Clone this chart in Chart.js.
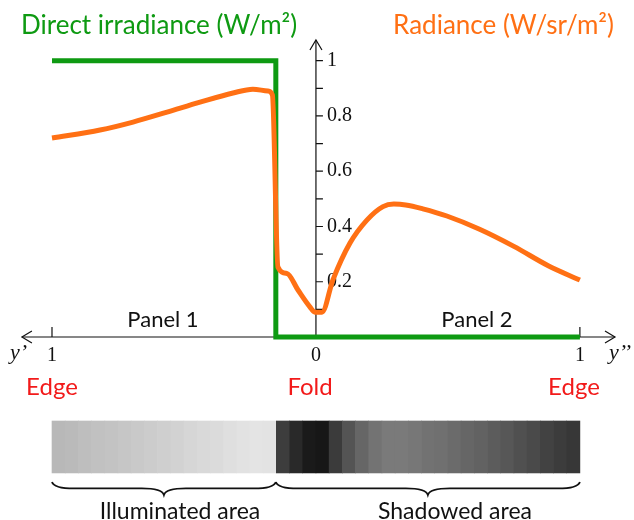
<!DOCTYPE html>
<html>
<head>
<meta charset="utf-8">
<title>Direct irradiance and radiance across the fold</title>
<script src="https://cdn.jsdelivr.net/npm/chart.js@4.4.1/dist/chart.umd.min.js"></script>
<style>
    html, body { margin: 0; padding: 0; background: #fff; }
    #wrap { position: relative; width: 634px; height: 520px; }
</style>
</head>
<body>
<div id="wrap"><canvas id="fold-chart"></canvas></div>
<script>
/* ===========================
   DATA
   x: -1 = edge of panel 1 (y' = 1), 0 = fold, 1 = edge of panel 2 (y'' = 1)
=========================== */

const irradianceX = [-1, -0.152, -0.152, 1];
const irradianceY = [1, 1, 0, 0];

const radianceX = [-1, -0.818, -0.693, -0.564, -0.439, -0.314, -0.239, -0.182, -0.165,
    -0.144, -0.11, -0.068, -0.023, -0.004, 0.023, 0.064, 0.129, 0.193, 0.254, 0.295,
    0.34, 0.405, 0.496, 0.62, 0.75, 0.88, 1];
const radianceY = [0.72, 0.749, 0.778, 0.814, 0.85, 0.883, 0.897, 0.89, 0.876,
    0.253, 0.23, 0.17, 0.109, 0.09, 0.09, 0.206, 0.34, 0.423, 0.472, 0.481,
    0.478, 0.464, 0.438, 0.39, 0.328, 0.258, 0.206];

// grey strip under the plot (brightness 0..1 per slice)
const stripX = [-0.975, -0.925, -0.875, -0.825, -0.775, -0.725, -0.675, -0.625, -0.575,
    -0.525, -0.475, -0.425, -0.375, -0.325, -0.275, -0.225, -0.175,
    -0.125, -0.075, -0.025, 0.025, 0.075, 0.125, 0.175, 0.225, 0.275, 0.325, 0.375,
    0.425, 0.475, 0.525, 0.575, 0.625, 0.675, 0.725, 0.775, 0.825, 0.875, 0.925, 0.975];
const stripGray = [0.72, 0.73, 0.745, 0.755, 0.765, 0.775, 0.79, 0.80, 0.81,
    0.825, 0.84, 0.85, 0.86, 0.875, 0.885, 0.895, 0.89,
    0.24, 0.16, 0.10, 0.09, 0.23, 0.33, 0.40, 0.45, 0.478, 0.478, 0.465,
    0.447, 0.44, 0.42, 0.40, 0.385, 0.36, 0.34, 0.315, 0.29, 0.26, 0.235, 0.215];

const yTickValues = [0.2, 0.4, 0.6, 0.8, 1];
const yTickLabels = ["0.2", "0.4", "0.6", "0.8", "1"];
const yMinorTicks = [0.1, 0.3, 0.5, 0.7, 0.9];
const xTickValues = [-1, 0, 1];
const xTickLabels = ["1", "0", "1"];

/* ===========================
   COLOURS / FONTS
=========================== */

const GREEN = "#0e9a12";
const ORANGE = "#ff7014";
const RED = "#f21a1a";
const SANS = "Lato, 'Open Sans', sans-serif";
const SERIF = "'Liberation Serif', 'DejaVu Serif', serif";

const STRIP_LO = -0.492;
const STRIP_HI = -0.304;

/* ===========================
   DECORATION PLUGIN
   arrows, ticks, labels, braces
=========================== */

function drawText(ctx, str, px, py, font, color, align, maxW) {
    ctx.font = font;
    ctx.fillStyle = color;
    ctx.textAlign = align || "left";
    ctx.textBaseline = "alphabetic";
    if (maxW && ctx.measureText(str).width > maxW) {
        ctx.fillText(str, px, py, maxW);
    } else {
        ctx.fillText(str, px, py);
    }
}

function drawBrace(ctx, x1, x2, top, h) {
    const mid = (x1 + x2) / 2;
    const r = 22;
    const yc = top + h / 2;
    ctx.beginPath();
    ctx.moveTo(x1, top);
    ctx.quadraticCurveTo(x1 + 2, yc, x1 + r, yc);
    ctx.lineTo(mid - r, yc);
    ctx.quadraticCurveTo(mid - 2, yc, mid, top + h);
    ctx.quadraticCurveTo(mid + 2, yc, mid + r, yc);
    ctx.lineTo(x2 - r, yc);
    ctx.quadraticCurveTo(x2 - 2, yc, x2, top);
    ctx.stroke();
}

const foldDecor = {
    id: "foldDecor",
    beforeDatasetsDraw(chart) {
        const { ctx, scales: { x, y } } = chart;
        const x0 = x.getPixelForValue(0);
        const y0 = y.getPixelForValue(0);
        const xl = x.getPixelForValue(-1.114);
        const xr = x.getPixelForValue(1.133);
        const yt = y.getPixelForValue(1.075);

        ctx.save();
        ctx.strokeStyle = "#111";
        ctx.lineWidth = 1.2;

        // axes
        ctx.beginPath();
        ctx.moveTo(xl, y0); ctx.lineTo(xr, y0);
        ctx.moveTo(x0, y0); ctx.lineTo(x0, yt);
        ctx.stroke();

        // arrow heads
        ctx.beginPath();
        ctx.moveTo(xl + 10, y0 - 6); ctx.lineTo(xl, y0); ctx.lineTo(xl + 10, y0 + 6);
        ctx.moveTo(xr - 10, y0 - 6); ctx.lineTo(xr, y0); ctx.lineTo(xr - 10, y0 + 6);
        ctx.moveTo(x0 - 6, yt + 10); ctx.lineTo(x0, yt); ctx.lineTo(x0 + 6, yt + 10);
        ctx.stroke();

        // y ticks
        ctx.beginPath();
        yTickValues.concat(yMinorTicks).forEach(v => {
            const py = y.getPixelForValue(v);
            ctx.moveTo(x0, py); ctx.lineTo(x0 + 7, py);
        });
        // x ticks at the two edges
        [-1, 1].forEach(v => {
            const px = x.getPixelForValue(v);
            ctx.moveTo(px, y0); ctx.lineTo(px, y0 - 10);
        });
        ctx.stroke();

        // tick labels
        ctx.font = "20px " + SERIF;
        ctx.fillStyle = "#111";
        ctx.textAlign = "left";
        ctx.textBaseline = "middle";
        yTickValues.forEach((v, i) => {
            ctx.fillText(yTickLabels[i], x0 + 11, y.getPixelForValue(v));
        });
        xTickValues.forEach((v, i) => {
            drawText(ctx, xTickLabels[i], x.getPixelForValue(v), y0 + 24,
                "20px " + SERIF, "#111", "center");
        });
        drawText(ctx, "y\u2019", 10, y0 + 22, "italic 22px " + SERIF, "#111", "left");
        drawText(ctx, "y\u2019\u2019", 609, y0 + 22, "italic 22px " + SERIF, "#111", "left");

        // titles
        drawText(ctx, "Direct irradiance (W/m\u00b2)", 21, 34, "26px " + SANS, GREEN, "left", 289);
        drawText(ctx, "Radiance (W/sr/m\u00b2)", 614, 34, "26px " + SANS, ORANGE, "right", 235);

        // panel names
        drawText(ctx, "Panel 1", 163, 327, "22px " + SANS, "#111", "center", 78);
        drawText(ctx, "Panel 2", 477, 327, "22px " + SANS, "#111", "center", 78);

        // edge / fold labels
        drawText(ctx, "Edge", 52, 395, "24px " + SANS, RED, "center", 62);
        drawText(ctx, "Fold", 310, 395, "24px " + SANS, RED, "center", 58);
        drawText(ctx, "Edge", 574, 395, "24px " + SANS, RED, "center", 62);

        // braces under the strip
        const sb = y.getPixelForValue(STRIP_LO);
        const xFold = x.getPixelForValue(irradianceX[1]);
        ctx.lineWidth = 1.8;
        drawBrace(ctx, x.getPixelForValue(-1), xFold, sb + 9, 13);
        drawBrace(ctx, xFold, x.getPixelForValue(1), sb + 9, 13);

        drawText(ctx, "Illuminated area", 180, 519, "23px " + SANS, "#111", "center", 176);
        drawText(ctx, "Shadowed area", 455, 519, "23px " + SANS, "#111", "center", 167);

        ctx.restore();
    }
};

/* ===========================
   CHART
=========================== */

function toPoints(xs, ys) {
    return xs.map((v, i) => ({ x: v, y: ys[i] }));
}

function grayCss(g) {
    const c = Math.round(g * 255);
    return `rgb(${c},${c},${c})`;
}

const canvas = document.getElementById("fold-chart");

new Chart(canvas, {
    type: "scatter",

    data: {
        datasets: [
            {
                type: "bar",
                label: "Strip",
                data: stripX.map(v => ({ x: v, y: [STRIP_LO, STRIP_HI] })),
                backgroundColor: stripGray.map(grayCss),
                borderWidth: 0,
                categoryPercentage: 1,
                barPercentage: 1,
                order: 3
            },
            {
                type: "line",
                label: "Radiance",
                data: toPoints(radianceX, radianceY),
                borderColor: ORANGE,
                borderWidth: 5,
                pointRadius: 0,
                cubicInterpolationMode: "monotone",
                fill: false,
                order: 1
            },
            {
                type: "line",
                label: "Direct irradiance",
                data: toPoints(irradianceX, irradianceY),
                borderColor: GREEN,
                borderWidth: 5,
                borderJoinStyle: "miter",
                pointRadius: 0,
                tension: 0,
                fill: false,
                order: 2
            }
        ]
    },

    options: {
        responsive: true,
        maintainAspectRatio: false,
        animation: false,
        layout: { padding: 0 },

        plugins: {
            legend: { display: false },
            tooltip: { enabled: false }
        },

        scales: {
            x: {
                type: "linear",
                display: false,
                offset: false,
                min: -1.197,
                max: 1.205
            },
            y: {
                type: "linear",
                display: false,
                min: -0.6623,
                max: 1.2197
            }
        }
    },

    plugins: [foldDecor]
});
</script>
</body>
</html>
